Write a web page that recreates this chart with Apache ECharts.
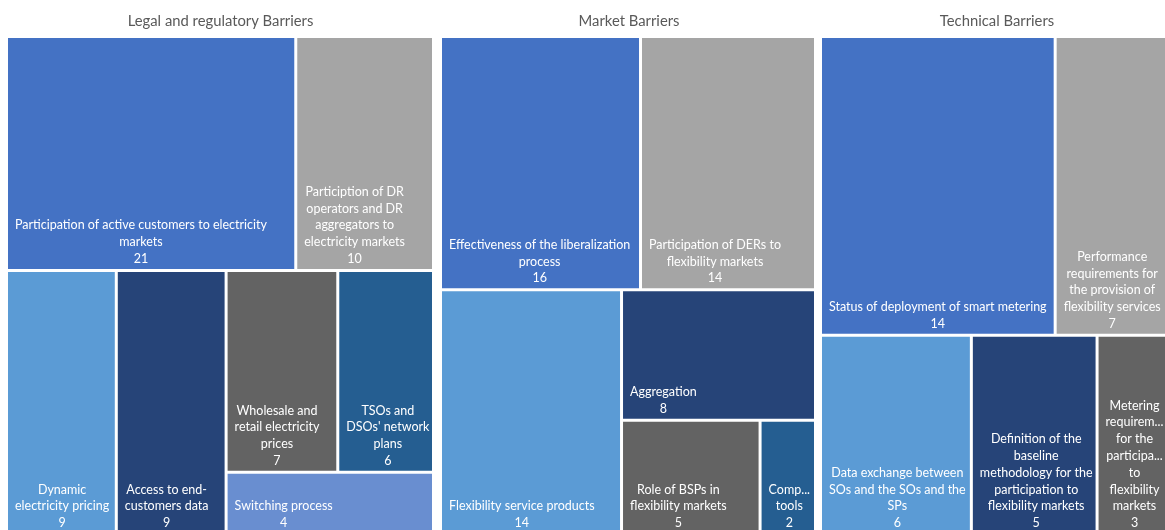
<!DOCTYPE html>
<html>
<head>
<meta charset="utf-8">
<title>Barriers treemap</title>
<script src="https://cdn.jsdelivr.net/npm/echarts@6/dist/echarts.min.js"></script>
<style>
    html, body { margin: 0; padding: 0; background: #fff; }
    #treemap_barriers { width: 1165px; height: 530px; }
</style>
</head>
<body>
<div id="treemap_barriers"></div>
<script>

// Chart data
// ------------------------------

var panelTitles = ['Legal and regulatory Barriers', 'Market Barriers', 'Technical Barriers'];

// Names keep the line breaks of the original labels
var legalNames = [
    'Participation of active customers to electricity\nmarkets',
    'Particiption of DR\noperators and DR\naggregators to\nelectricity markets',
    'Dynamic\nelectricity pricing',
    'Access to end-\ncustomers data',
    'Wholesale and\nretail electricity\nprices',
    'TSOs and\nDSOs\' network\nplans',
    'Switching process'
];
var legalValues = [21, 10, 9, 9, 7, 6, 4];
// the two price / network cells stay together, as in the original
var legalGroups = [0, 1, 2, 3, [4, 5], 6];

var marketNames = [
    'Effectiveness of the liberalization\nprocess',
    'Participation of DERs to\nflexibility markets',
    'Flexibility service products',
    'Aggregation',
    'Role of BSPs in\nflexibility markets',
    'Comp...\ntools'
];
var marketValues = [16, 14, 14, 8, 5, 2];
var marketGroups = [0, 1, 2, 3, 4, 5];

var technicalNames = [
    'Status of deployment of smart metering',
    'Performance\nrequirements for\nthe provision of\nflexibility services',
    'Data exchange between\nSOs and the SOs and the\nSPs',
    'Definition of the\nbaseline\nmethodology for the\nparticipation to\nflexibility markets',
    'Metering\nrequirem...\nfor the\nparticipa...\nto\nflexibility\nmarkets'
];
var technicalValues = [14, 7, 6, 5, 3];
var technicalGroups = [0, 1, 2, 3, 4];


// Setup module
// ------------------------------

var EchartsTreemapBarriers = function() {

    var _treemapBarriers = function() {
        if (typeof echarts == 'undefined') {
            console.warn('Warning - echarts.min.js is not loaded.');
            return;
        }

        var treemap_element = document.getElementById('treemap_barriers');
        if (!treemap_element) {
            return;
        }

        var treemap = echarts.init(treemap_element);

        // Office colours, in the order the cells get them
        var palette = ['#4472C4', '#A5A5A5', '#5B9BD5', '#264478', '#636363', '#255E91', '#698ED0'];
        var fontFamily = 'Lato';
        var labelSize = 12.5;
        var lineHeight = 16.8;

        // Text widths, to centre each line inside a left aligned block
        var ctx = document.createElement('canvas').getContext('2d');
        ctx.font = labelSize + 'px ' + fontFamily;

        var makeItem = function(name, value, i) {
            var lines = name.split('\n').concat(String(value));
            var widths = lines.map(function(t) { return ctx.measureText(t).width; });
            var maxWidth = Math.max.apply(null, widths);
            var rich = {};
            var text = lines.map(function(t, j) {
                rich['l' + j] = {
                    color: '#fff',
                    fontFamily: fontFamily,
                    fontSize: labelSize,
                    lineHeight: lineHeight,
                    padding: [0, 0, 0, (maxWidth - widths[j]) / 2]
                };
                return '{l' + j + '|' + t + '}';
            }).join('\n');

            return {
                name: name.replace(/\n/g, ' '),
                value: value,
                itemStyle: { color: palette[i % palette.length] },
                label: {
                    // block sits on the bottom edge of its cell
                    offset: [2, -(lines.length * lineHeight + 6.5)],
                    rich: rich,
                    formatter: function() { return text; }
                }
            };
        };

        // One treemap per group of barriers
        var makeSeries = function(names, values, groups, left, width, ratio) {
            var data = groups.map(function(g) {
                if (Array.isArray(g)) {
                    return {
                        children: g.map(function(i) { return makeItem(names[i], values[i], i); })
                    };
                }
                return makeItem(names[g], values[g], g);
            });

            return {
                type: 'treemap',
                left: left,
                top: 38,
                width: width,
                height: 495,
                roam: false,
                nodeClick: false,
                silent: true,
                sort: false,
                squareRatio: ratio,
                breadcrumb: { show: false },
                itemStyle: {
                    borderColor: '#fff',
                    borderWidth: 0,
                    gapWidth: 3
                },
                upperLabel: { show: false },
                label: {
                    show: true,
                    position: ['0%', '100%'],
                    align: 'left',
                    verticalAlign: 'top',
                    overflow: 'none',
                    color: '#fff',
                    fontFamily: fontFamily,
                    fontSize: labelSize,
                    lineHeight: lineHeight
                },
                data: data
            };
        };

        var titleCenters = [215.5, 624, 992];

        treemap.setOption({
            animation: false,
            title: panelTitles.map(function(text, i) {
                return {
                    text: text,
                    left: titleCenters[i],
                    top: 9,
                    textAlign: 'center',
                    textStyle: {
                        color: '#595959',
                        fontFamily: fontFamily,
                        fontSize: 14.8,
                        fontWeight: 'normal'
                    }
                };
            }),
            tooltip: { show: false },
            series: [
                makeSeries(legalNames, legalValues, legalGroups, 8, 424, 0.812),
                makeSeries(marketNames, marketValues, marketGroups, 442, 372, 0.812),
                makeSeries(technicalNames, technicalValues, technicalGroups, 822, 349, 1.25)
            ]
        });

        window.addEventListener('resize', function() {
            treemap.resize();
        });
    };

    return {
        init: function() {
            _treemapBarriers();
        }
    }
}();


// Initialize module
// ------------------------------

document.addEventListener('DOMContentLoaded', function() {
    EchartsTreemapBarriers.init();
});
</script>
</body>
</html>
